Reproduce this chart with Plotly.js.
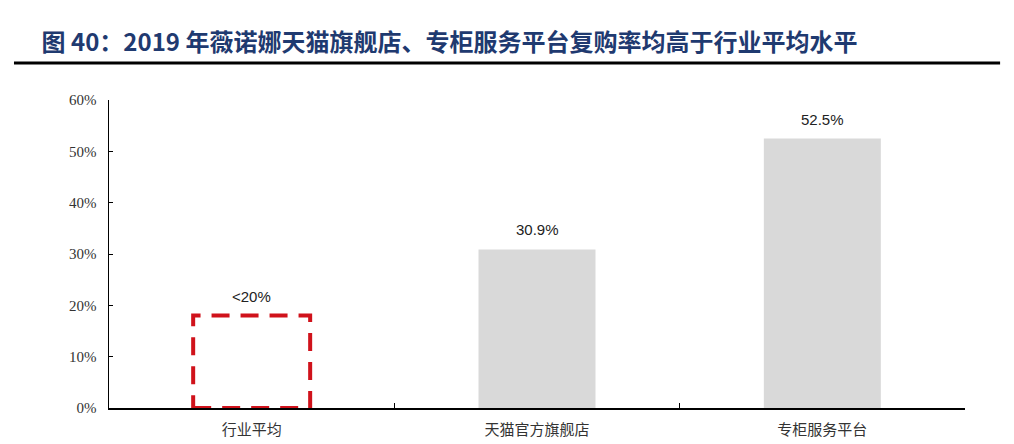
<!DOCTYPE html>
<html>
<head>
<meta charset="utf-8">
<script src="https://cdn.plot.ly/plotly-3.0.1.min.js"></script>
<style>
  html, body { margin: 0; padding: 0; background: #fff; }
  #chart { width: 1014px; height: 444px; }
</style>
</head>
<body>
<div id="chart"></div>
<script>
const categories = ["行业平均", "天猫官方旗舰店", "专柜服务平台"];
const values = [18, 30.9, 52.5];
const valueLabels = ["<20%", "30.9%", "52.5%"];
const yTicks = [0, 10, 20, 30, 40, 50, 60];
const yTickText = ["0%", "10%", "20%", "30%", "40%", "50%", "60%"];

const BAR_W = 0.41;
const RED = "#d0121b";

// first bar is only an estimate, drawn as a dashed outline
const fills = values.map((v, i) => (i === 0 ? "rgba(0,0,0,0)" : "#d9d9d9"));

const trace = {
  type: "bar",
  x: categories,
  y: values,
  width: BAR_W,
  marker: { color: fills, line: { width: 0 } },
  hoverinfo: "skip",
};

const labels = values.map((v, i) => ({
  x: categories[i],
  y: v,
  text: valueLabels[i],
  showarrow: false,
  yanchor: "bottom",
  yshift: 9,
  font: { family: "Liberation Sans, Arial, sans-serif", size: 15, color: "#222" },
}));

const dashedBox = {
  type: "rect",
  xref: "x",
  yref: "y",
  x0: 0 - BAR_W / 2,
  x1: 0 + BAR_W / 2,
  y0: 0,
  y1: values[0],
  line: { color: RED, width: 4, dash: "18px,11px" },
  fillcolor: "rgba(0,0,0,0)",
  layer: "above",
};

const titleRule = {
  type: "line",
  xref: "paper",
  yref: "paper",
  x0: -0.111,
  x1: 1.041,
  y0: 1.12,
  y1: 1.12,
  line: { color: "#000", width: 3 },
};

const layout = {
  width: 1014,
  height: 444,
  margin: { l: 109, r: 49, t: 100, b: 36 },
  paper_bgcolor: "#fff",
  plot_bgcolor: "#fff",
  showlegend: false,
  title: {
    text: "<b>图 40：2019 年薇诺娜天猫旗舰店、专柜服务平台复购率均高于行业平均水平</b>",
    xref: "container",
    yref: "container",
    x: 0.041,
    xanchor: "left",
    y: 0.905,
    yanchor: "middle",
    font: { family: "Noto Sans CJK SC, sans-serif", size: 24, color: "#1f3a70" },
  },
  xaxis: {
    type: "category",
    showline: true,
    linecolor: "#000",
    linewidth: 1.5,
    ticks: "inside",
    tickson: "boundaries",
    ticklen: 5,
    tickcolor: "#000",
    showgrid: false,
    zeroline: false,
    ticklabelstandoff: 7,
    tickfont: { family: "Noto Sans CJK SC, sans-serif", size: 15, color: "#333" },
  },
  yaxis: {
    range: [0, 60],
    tickvals: yTicks,
    ticktext: yTickText,
    showline: true,
    linecolor: "#000",
    linewidth: 1.5,
    ticks: "inside",
    ticklen: 4,
    tickcolor: "#000",
    showgrid: false,
    zeroline: false,
    ticklabelstandoff: 8,
    tickfont: { family: "Liberation Serif, serif", size: 15, color: "#333" },
  },
  annotations: labels,
  shapes: [dashedBox, titleRule],
};

Plotly.newPlot("chart", [trace], layout, { displayModeBar: false, staticPlot: true });
</script>
</body>
</html>
